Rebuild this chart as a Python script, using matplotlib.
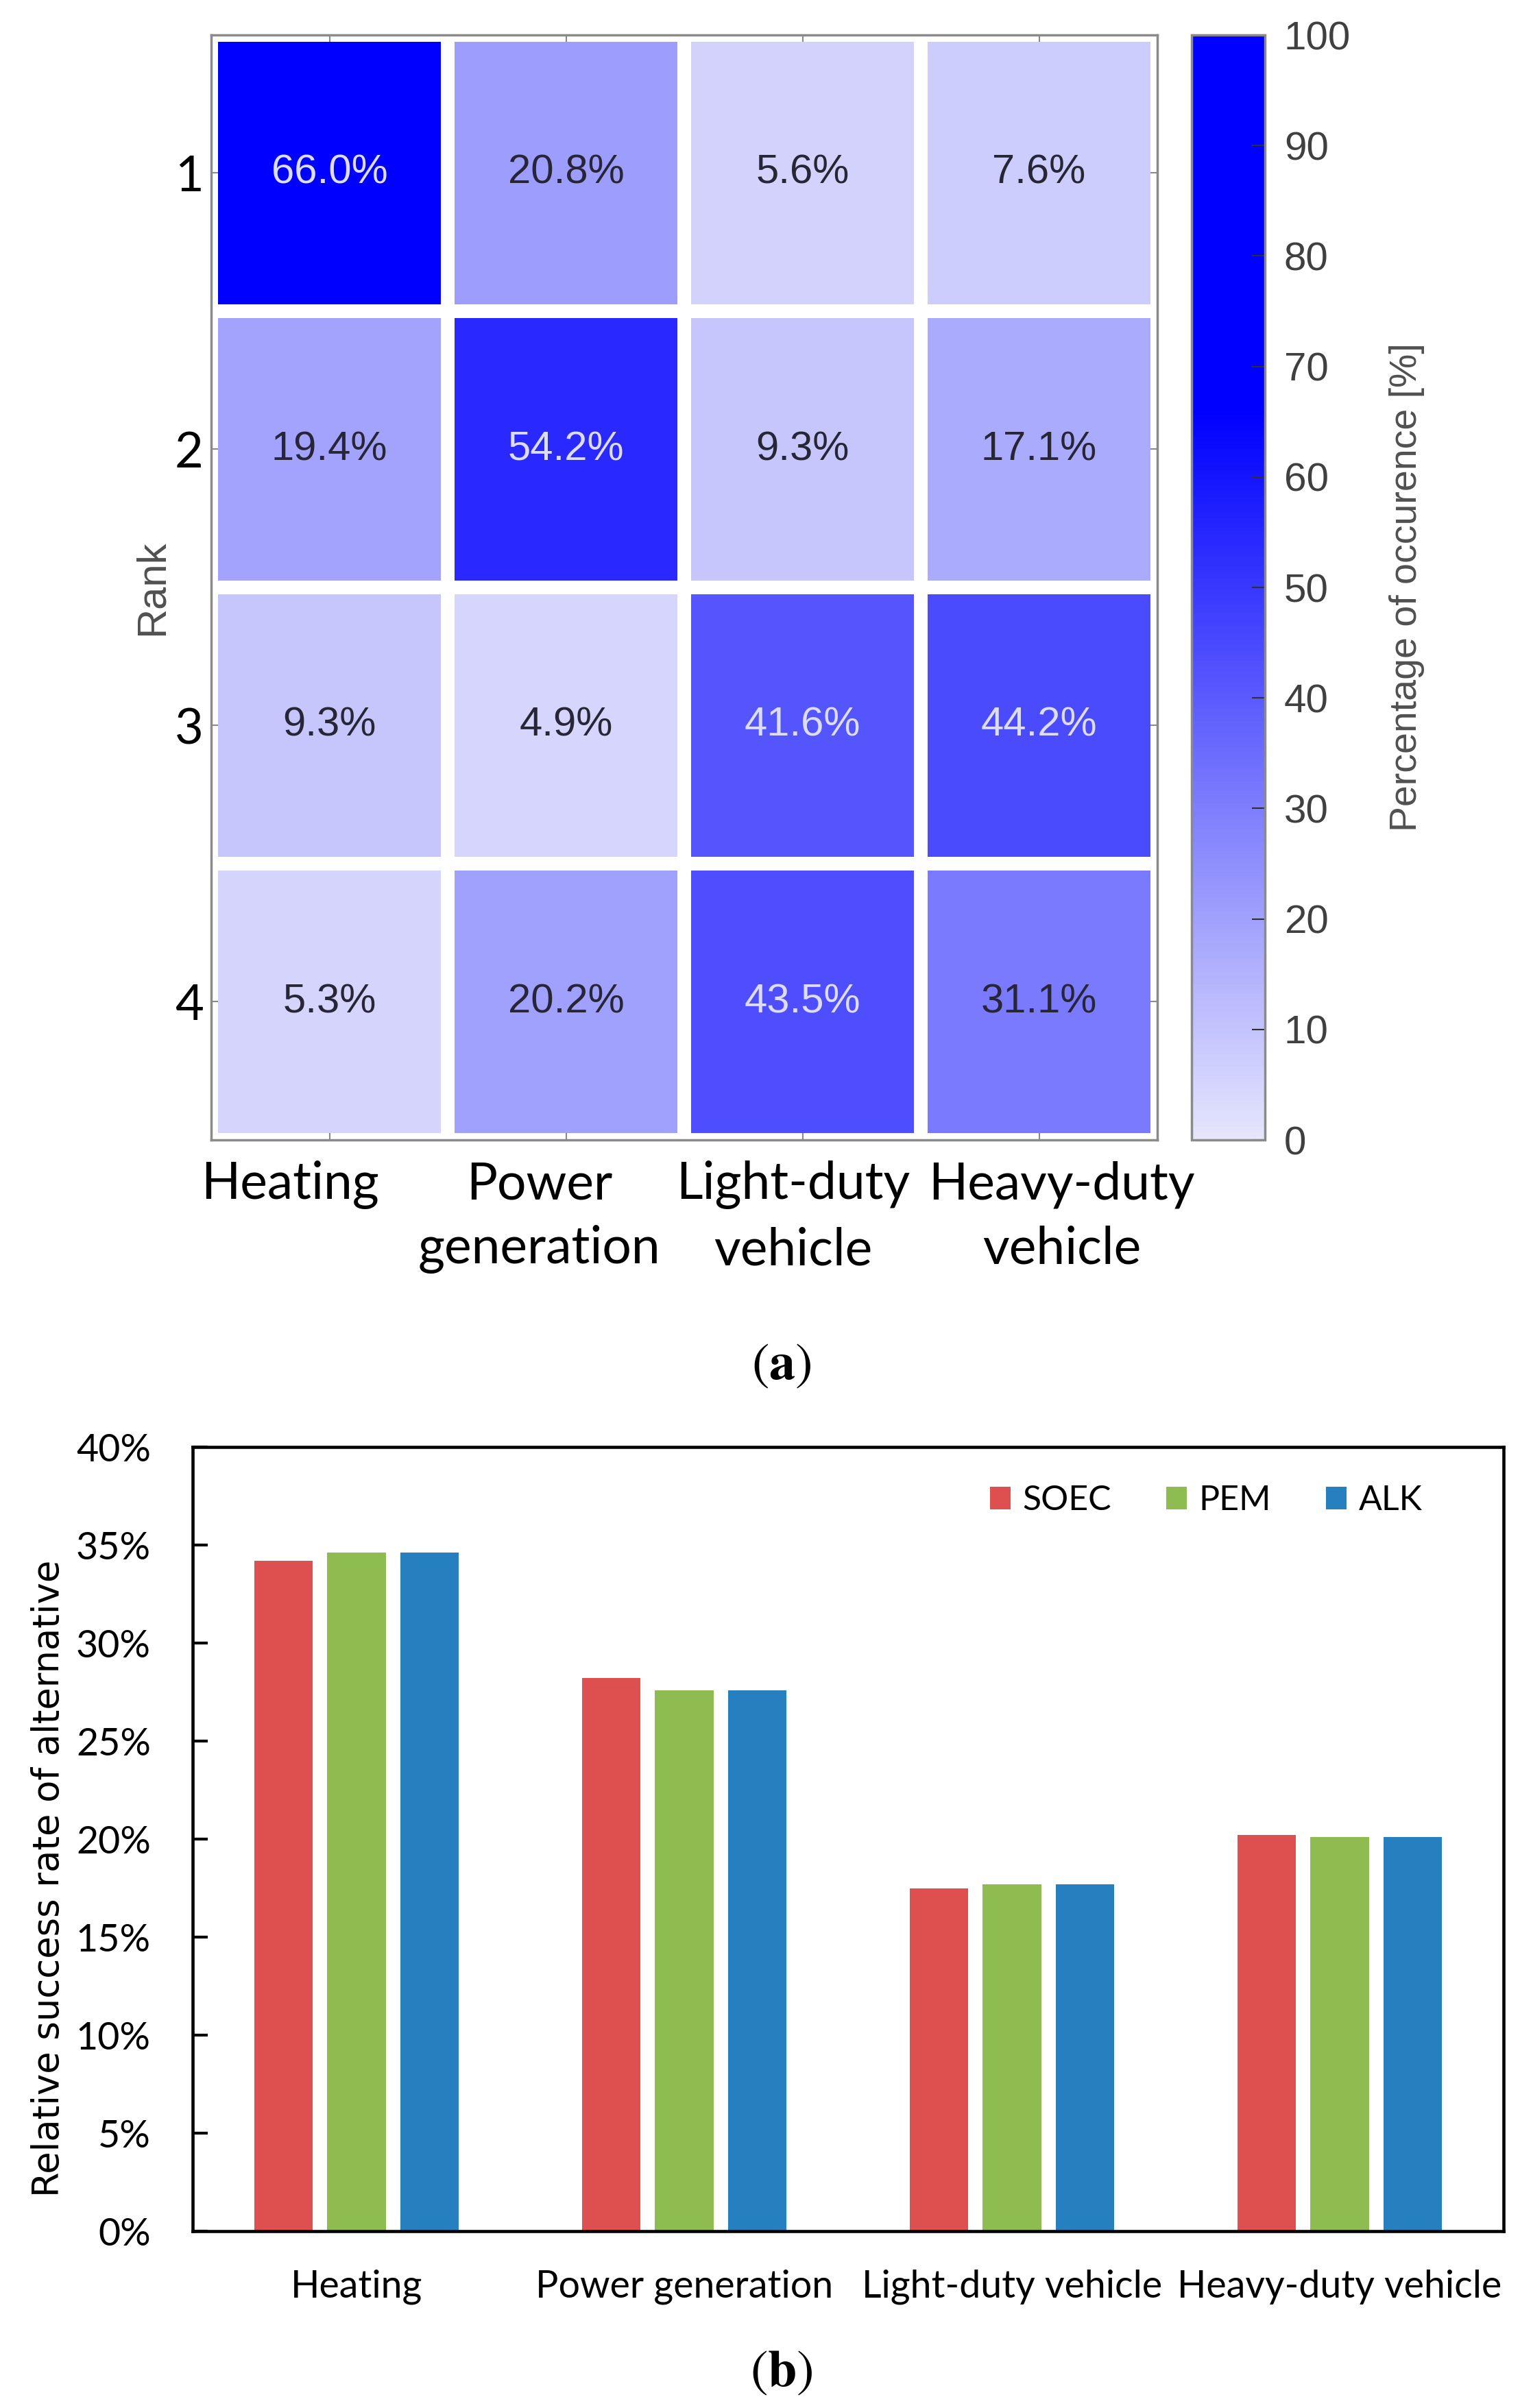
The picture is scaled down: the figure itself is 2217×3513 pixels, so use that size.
import numpy as np
import matplotlib
matplotlib.use('Agg')
import matplotlib.pyplot as plt
from matplotlib.colors import LinearSegmentedColormap, Normalize
from matplotlib.cm import ScalarMappable
from matplotlib.transforms import ScaledTranslation

plt.rcParams['mathtext.fontset'] = 'stix'

# (a) heatmap data
uses = ['Heating', 'Power\ngeneration', 'Light-duty\nvehicle', 'Heavy-duty\nvehicle']
ranks = ['1', '2', '3', '4']
occurrence = np.array([[66.0, 20.8, 5.6, 7.6],
                       [19.4, 54.2, 9.3, 17.1],
                       [9.3, 4.9, 41.6, 44.2],
                       [5.3, 20.2, 43.5, 31.1]])
cbar_ticks = list(range(0, 101, 10))

# (b) bar chart data
bar_cats = ['Heating', 'Power generation', 'Light-duty vehicle', 'Heavy-duty vehicle']
series = ['SOEC', 'PEM', 'ALK']
soec = [34.2, 28.2, 17.5, 20.2]
pem = [34.6, 27.6, 17.7, 20.1]
alk = [34.6, 27.6, 17.7, 20.1]
bar_yticks = list(range(0, 41, 5))

W, H = 2217, 3513
fig = plt.figure(figsize=(W / 100, H / 100), dpi=100)


def box(l, t, r, b):
    return [l / W, 1 - b / H, (r - l) / W, (b - t) / H]


ax1 = fig.add_axes(box(308, 51, 1688, 1663))
cax = fig.add_axes(box(1738, 51, 1845, 1663))
ax2 = fig.add_axes(box(281, 2111, 2193, 3255))

# ---- heatmap ----
gray = '#8a8a8a'
cmap = LinearSegmentedColormap.from_list(
    'occ', [(0, (0.90, 0.90, 0.99)), (0.66, (0, 0, 1)), (1, (0, 0, 1))])
norm = Normalize(0, 100)
ax1.pcolormesh(occurrence, cmap=cmap, norm=norm, edgecolors='white', linewidth=14.4)
ax1.set_xlim(0, 4)
ax1.set_ylim(4, 0)

for i in range(occurrence.shape[0]):
    for j in range(occurrence.shape[1]):
        v = occurrence[i, j]
        ax1.text(j + 0.5, i + 0.5, f'{v:.1f}%', ha='center', va='center',
                 fontsize=43, family='Liberation Sans',
                 color='#dcdcf2' if v > 40 else '#262636')

ax1.set_xticks(np.arange(4) + 0.5)
ax1.set_xticklabels([])
ax1.set_yticks(np.arange(4) + 0.5)
ax1.set_yticklabels(ranks, fontsize=52, family='Lato')
ax1.tick_params(direction='in', top=True, right=True, length=7, width=1.5,
                color=gray, pad=8)
for s in ax1.spines.values():
    s.set_color(gray)
    s.set_linewidth(2.5)
ax1.set_ylabel('Rank', fontsize=43, family='Liberation Sans', color='#505050', labelpad=4)

label_shift = [-57, -39, -14, 33]  # px, labels sit off-centre in the original
for j, (lab, dx) in enumerate(zip(uses, label_shift)):
    tr = ax1.get_xaxis_transform() + ScaledTranslation(dx / 100, -0.30, fig.dpi_scale_trans)
    ax1.text(j + 0.5, 0, lab, transform=tr, ha='center', va='top', fontsize=54,
             family='Lato', linespacing=1.45, multialignment='center')

cb = fig.colorbar(ScalarMappable(norm=norm, cmap=cmap), cax=cax, ticks=cbar_ticks)
cb.outline.set_edgecolor(gray)
cb.outline.set_linewidth(2.5)
cax.tick_params(direction='in', length=14, width=1.5, color='#303030',
                labelsize=42, labelcolor='#404040', pad=20)
for t in cax.get_yticklabels():
    t.set_family('Liberation Sans')
cb.set_label('Percentage of occurence [%]', fontsize=40, family='Liberation Sans',
             color='#505050', labelpad=40)

fig.text(1140 / W, 1 - 1991 / H, r'$(\mathbf{a})$', fontsize=55, ha='center', va='center')

# ---- bar chart ----
colors = ['#de5050', '#8fbc50', '#2680c0']
x = np.arange(len(bar_cats))
width, step = 0.178, 0.222
for k, (name, vals, c) in enumerate(zip(series, [soec, pem, alk], colors)):
    ax2.bar(x + (k - 1) * step, vals, width, color=c, label=name)

ax2.set_xlim(-0.5, 3.5)
ax2.set_ylim(0, 40)
ax2.set_yticks(bar_yticks)
ax2.set_yticklabels([f'{v}%' for v in bar_yticks], fontsize=40, family='Lato')
ax2.set_xticks(x)
ax2.set_xticklabels(bar_cats, fontsize=40, family='Lato')
ax2.tick_params(axis='y', direction='in', length=16, width=3, pad=44)
ax2.tick_params(axis='x', length=0, pad=40)
for s in ax2.spines.values():
    s.set_linewidth(3.3)
ax2.set_ylabel('Relative success rate of alternative', fontsize=38,
               family='DejaVu Sans', labelpad=10, y=0.45)
leg = ax2.legend(loc='center right', bbox_to_anchor=(0.938, 0.932), ncol=3,
                 frameon=False, prop={'family': 'Lato', 'size': 36},
                 handlelength=0.6, handleheight=0.65, handletextpad=0.35,
                 columnspacing=1.6, borderpad=0, borderaxespad=0)

fig.text(1140 / W, 1 - 3460 / H, r'$(\mathbf{b})$', fontsize=55, ha='center', va='center')

fig.savefig('out.png', dpi=100)
